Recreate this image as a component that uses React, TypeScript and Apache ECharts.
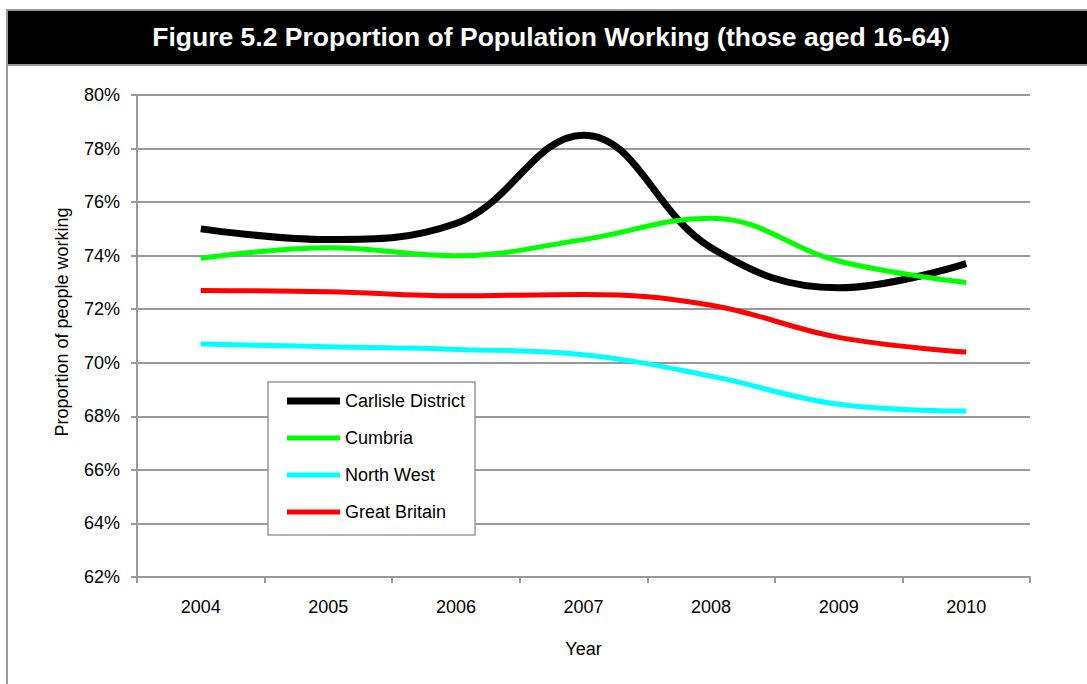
import React, { useEffect, useRef } from "react";
import * as echarts from "echarts";

const years = ["2004", "2005", "2006", "2007", "2008", "2009", "2010"];
const carlisle = [75.0, 74.6, 75.2, 78.5, 74.3, 72.8, 73.7];
const cumbria = [73.9, 74.3, 74.0, 74.6, 75.4, 73.8, 73.0];
const northWest = [70.7, 70.6, 70.5, 70.3, 69.5, 68.45, 68.2];
const greatBritain = [72.7, 72.65, 72.5, 72.55, 72.15, 70.95, 70.4];
const seriesNames = ["Carlisle District", "Cumbria", "North West", "Great Britain"];
const seriesColors = ["#000000", "#00ff00", "#00ffff", "#ff0000"];
const seriesWidths = [7, 5, 5, 5];
const title = "Figure 5.2 Proportion of Population Working (those aged 16-64)";

export default function App() {
  const ref = useRef<HTMLDivElement>(null);
  useEffect(() => {
    if (!ref.current) return;
    const chart = echarts.init(ref.current, null, { renderer: "svg" });
    const data = [carlisle, cumbria, northWest, greatBritain];
    const font = "'Liberation Sans', Arial, sans-serif";
    chart.setOption({
      animation: false,
      backgroundColor: "#ffffff",
      textStyle: { fontFamily: font },
      graphic: [
        { type: "rect", shape: { x: 8, y: 11, width: 1079, height: 53 }, style: { fill: "#000000" } },
        { type: "line", shape: { x1: 6, y1: 10, x2: 1087, y2: 10 }, style: { stroke: "#999999", lineWidth: 2 } },
        { type: "line", shape: { x1: 7, y1: 10, x2: 7, y2: 684 }, style: { stroke: "#999999", lineWidth: 2 } },
        { type: "line", shape: { x1: 6, y1: 65, x2: 1087, y2: 65 }, style: { stroke: "#999999", lineWidth: 2 } },
        {
          type: "text",
          x: 551,
          y: 37,
          style: {
            text: title,
            fill: "#ffffff",
            font: "bold 26.5px " + font,
            align: "center",
            verticalAlign: "middle",
          },
        },
      ],
      grid: { left: 137, right: 57, top: 95, bottom: 107 },
      legend: {
        left: 268,
        top: 382,
        orient: "vertical",
        backgroundColor: "#ffffff",
        borderColor: "#999999",
        borderWidth: 1.5,
        borderRadius: 0,
        padding: [10, 10, 14, 19],
        itemWidth: 53,
        itemHeight: 16,
        itemGap: 19,
        textStyle: { fontSize: 18, color: "#000", fontFamily: font },
        data: seriesNames.map((n, i) => ({
          name: n,
          icon: "path://M0,0h53v" + seriesWidths[i] + "h-53z",
          itemStyle: { color: seriesColors[i] },
        })),
      },
      xAxis: {
        type: "category",
        data: years,
        boundaryGap: true,
        name: "Year",
        nameLocation: "middle",
        nameGap: 63,
        nameTextStyle: { fontSize: 18, color: "#000", fontFamily: font },
        axisLine: { lineStyle: { color: "#999999", width: 2 } },
        axisTick: { show: true, length: 6, lineStyle: { color: "#999999", width: 2 } },
        axisLabel: { fontSize: 18, color: "#000", margin: 21, fontFamily: font },
      },
      yAxis: {
        type: "value",
        min: 62,
        max: 80,
        interval: 2,
        name: "Proportion of people working",
        nameLocation: "middle",
        nameGap: 66,
        nameTextStyle: { fontSize: 18, color: "#000", fontFamily: font, padding: [0, 0, 0, 28] },
        axisLine: { show: true, lineStyle: { color: "#999999", width: 2 } },
        axisTick: { show: true, length: 6, lineStyle: { color: "#999999", width: 2 } },
        axisLabel: { fontSize: 18, color: "#000", margin: 17, formatter: "{value}%", fontFamily: font },
        splitLine: { lineStyle: { color: "#999999", width: 2 } },
      },
      series: seriesNames.map((n, i) => ({
        name: n,
        type: "line",
        data: data[i],
        smooth: 0.4,
        showSymbol: false,
        symbol: "none",
        color: seriesColors[i],
        lineStyle: { color: seriesColors[i], width: seriesWidths[i] },
      })),
    });
    return () => chart.dispose();
  }, []);
  return (
    <div
      ref={ref}
      style={{ position: "fixed", left: 0, top: 0, width: 1087, height: 684 }}
    />
  );
}
